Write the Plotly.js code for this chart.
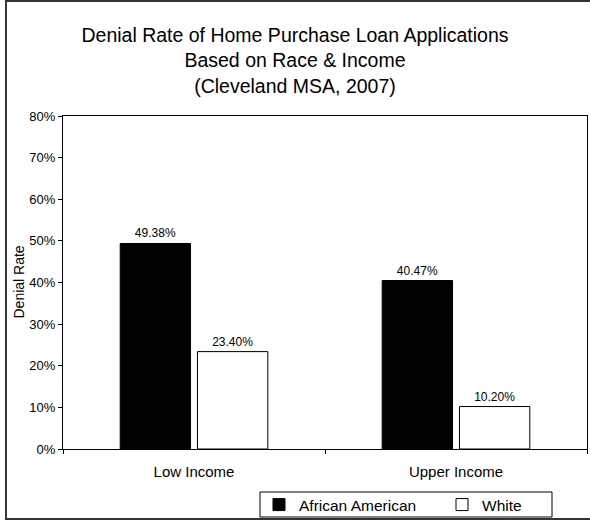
<!DOCTYPE html>
<html>
<head>
<meta charset="utf-8">
<script src="https://cdn.plot.ly/plotly-3.0.1.min.js"></script>
<style>
html,body{margin:0;padding:0;background:#fff;}
#chart{width:590px;height:521px;}
</style>
</head>
<body>
<div id="chart"></div>
<script>
const categories = ["Low Income", "Upper Income"];
const seriesNames = ["African American", "White"];
const africanAmerican = [0.4938, 0.4047];
const white = [0.2340, 0.1020];
const yTicks = [0, 0.1, 0.2, 0.3, 0.4, 0.5, 0.6, 0.7, 0.8];

const font = "Liberation Sans, Arial, sans-serif";

const traces = [
  {
    type: "bar", name: seriesNames[0], x: categories, y: africanAmerican,
    marker: {color: "#000000", line: {color: "#000000", width: 1}},
    texttemplate: "%{y:.2%}", textposition: "outside",
    textfont: {family: font, size: 12, color: "#000"}, cliponaxis: false,
    hoverinfo: "none", legend: "legend"
  },
  {
    type: "bar", name: seriesNames[1], x: categories, y: white,
    marker: {color: "#ffffff", line: {color: "#000000", width: 1}},
    texttemplate: "%{y:.2%}", textposition: "outside",
    textfont: {family: font, size: 12, color: "#000"}, cliponaxis: false,
    hoverinfo: "none", legend: "legend2"
  }
];

// pixel helpers for plot area (l=63, r=587, t=116, b=449)
const L = 63, R = 587, T = 116, B = 449;
const px = v => (v - L) / (R - L);
const py = v => (B - v) / (B - T);

const legendBase = {
  orientation: "h", xanchor: "left", yanchor: "top",
  font: {family: font, size: 15.5, color: "#000"},
  bgcolor: "rgba(0,0,0,0)", borderwidth: 0
};

const layout = {
  width: 590, height: 521,
  margin: {l: L, r: 590 - R, t: T, b: 521 - B, pad: 0, autoexpand: false},
  paper_bgcolor: "#ffffff", plot_bgcolor: "#ffffff",
  font: {family: font, size: 12, color: "#000"},
  title: {
    text: "Denial Rate of Home Purchase Loan Applications<br>Based on Race &amp; Income<br>(Cleveland MSA, 2007)",
    font: {family: font, size: 19.5, color: "#000"},
    x: 0.5, xref: "container", xanchor: "center",
    y: 1 - 42 / 521, yref: "container", yanchor: "top"
  },
  barmode: "group", bargap: 0.41, bargroupgap: 0.09,
  showlegend: true,
  legend: Object.assign({}, legendBase, {x: px(259), y: py(488)}),
  legend2: Object.assign({}, legendBase, {x: px(442), y: py(488)}),
  xaxis: {
    type: "category", showline: true, linecolor: "#000", linewidth: 1, mirror: true,
    ticks: "outside", tickson: "boundaries", ticklen: 4, tickcolor: "#000",
    ticklabelstandoff: 9,
    showgrid: false, zeroline: false, fixedrange: true,
    tickfont: {family: font, size: 15, color: "#000"}
  },
  yaxis: {
    range: [0, 0.8], tickvals: yTicks, tickformat: ".0%",
    showline: true, linecolor: "#000", linewidth: 1, mirror: true,
    ticks: "outside", ticklen: 4, tickcolor: "#000",
    showgrid: false, zeroline: false, fixedrange: true,
    tickfont: {family: font, size: 13, color: "#000"}
  },
  annotations: [
    {
      text: "Denial Rate", textangle: -90, xref: "paper", yref: "paper",
      x: px(18), y: 0.5, xanchor: "center", yanchor: "middle", showarrow: false,
      font: {family: font, size: 14, color: "#000"}
    }
  ],
  shapes: [
    {
      type: "rect", xref: "paper", yref: "paper",
      x0: px(6), x1: px(597), y0: py(519), y1: py(1),
      line: {color: "#333", width: 2}, fillcolor: "rgba(0,0,0,0)", layer: "below"
    },
    {
      type: "rect", xref: "paper", yref: "paper",
      x0: px(260), x1: px(552), y0: py(517), y1: py(492),
      line: {color: "#000", width: 1}, fillcolor: "rgba(0,0,0,0)"
    }
  ]
};

Plotly.newPlot("chart", traces, layout, {displayModeBar: false, staticPlot: true});
</script>
</body>
</html>
